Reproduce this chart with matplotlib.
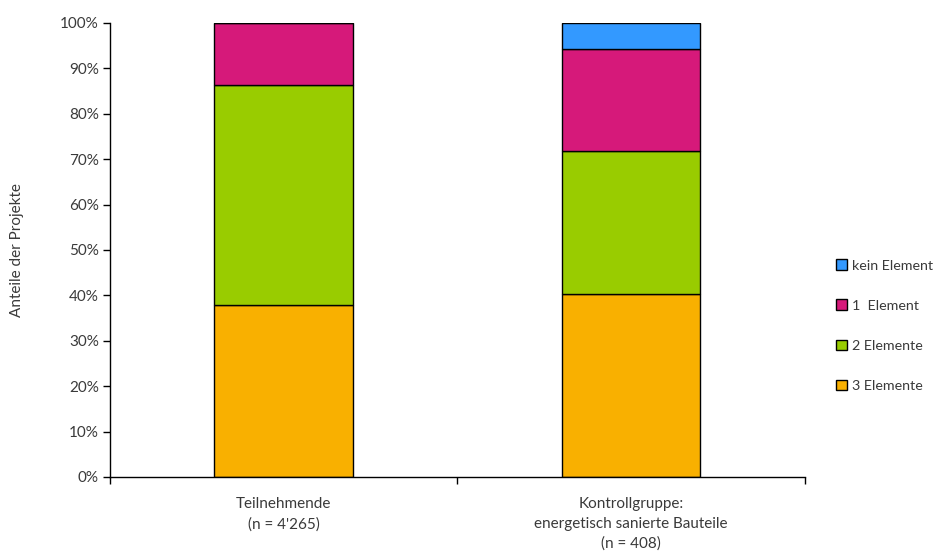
import matplotlib
matplotlib.use("Agg")
import matplotlib.pyplot as plt
from matplotlib.patches import Patch
import numpy as np

categories = ["Teilnehmende\n(n = 4'265)", "Kontrollgruppe:\nenergetisch sanierte Bauteile\n(n = 408)"]
series_names = ["3 Elemente", "2 Elemente", "1  Element", "kein Element"]
elem3 = [37.8, 40.4]
elem2 = [48.6, 31.3]
elem1 = [13.6, 22.5]
kein = [0.0, 5.8]
colors = ["#F9B000", "#99CC00", "#D6197A", "#3399FF"]
yticks = [0, 10, 20, 30, 40, 50, 60, 70, 80, 90, 100]

plt.rcParams['font.family'] = ['Lato', 'DejaVu Sans']
txt = "#3a3a3a"

fig = plt.figure(figsize=(9.39, 5.59), dpi=100)
ax = fig.add_axes([0.117, 0.1467, 0.740, 0.8122])

x = np.arange(len(categories))
bottom = np.zeros(len(categories))
for vals, c in zip([elem3, elem2, elem1, kein], colors):
    v = np.array(vals)
    ax.bar(x, v, 0.4, bottom=bottom, color=c, edgecolor="black", linewidth=1)
    bottom += v

ax.set_xlim(-0.5, 1.5)
ax.set_ylim(0, 100)
ax.set_yticks(yticks)
ax.set_yticklabels([f"{t}%" for t in yticks], color=txt, fontsize=11)
ax.set_xticks([-0.5, 0.5, 1.5])
ax.set_xticklabels([])
ax.tick_params(axis='x', direction='out', length=5, width=1)
ax.tick_params(axis='y', direction='out', length=5, width=1, pad=3)
for i, lab in enumerate(categories):
    ax.text(i, -4.5, lab, ha='center', va='top', fontsize=11, color=txt,
            linespacing=1.5)
ax.set_ylabel("Anteile der Projekte", fontsize=11, color=txt, labelpad=26)
for s in ['top', 'right']:
    ax.spines[s].set_visible(False)
ax.spines['left'].set_linewidth(1)
ax.spines['bottom'].set_linewidth(1)

handles = [Patch(facecolor=c, edgecolor="black", linewidth=1) for c in colors][::-1]
labels = series_names[::-1]
leg = fig.legend(handles, labels, loc='center left', bbox_to_anchor=(0.884, 0.4175),
                 frameon=False, fontsize=10.3, labelspacing=1.95, handlelength=0.75,
                 handleheight=0.75, handletextpad=0.35, borderaxespad=0)
for t in leg.get_texts():
    t.set_color(txt)

fig.savefig("out.png", dpi=100)
